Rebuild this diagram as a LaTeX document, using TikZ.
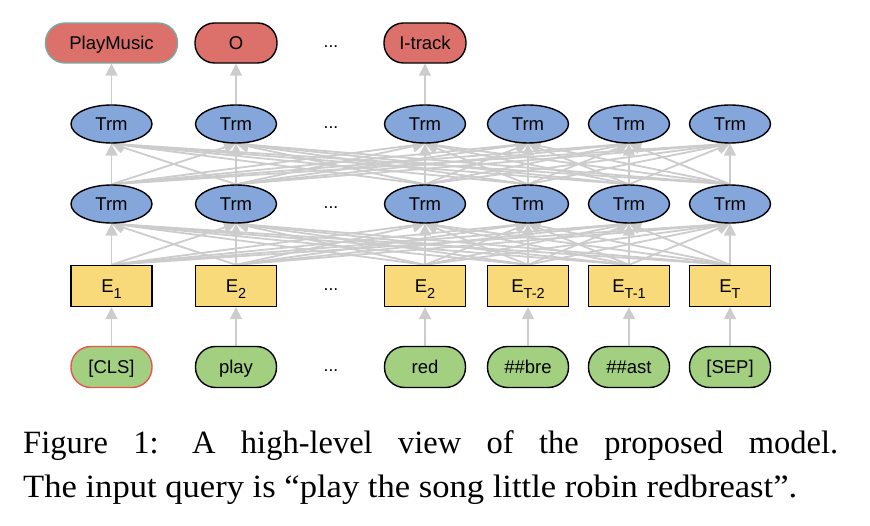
\documentclass[tikz,border=0pt]{standalone}
\usepackage{fontspec}
\setmainfont{Liberation Sans}
\newfontfamily\capfont{Liberation Serif}
\usetikzlibrary{arrows.meta,shapes.geometric,backgrounds}
\definecolor{redfill}{RGB}{220,112,106}
\definecolor{bluefill}{RGB}{133,166,219}
\definecolor{yellowfill}{RGB}{249,218,122}
\definecolor{greenfill}{RGB}{163,208,128}
\definecolor{arrowgray}{RGB}{204,204,204}
\definecolor{tealborder}{RGB}{120,170,160}
\definecolor{clsborder}{RGB}{232,85,79}
\newcommand{\sub}[1]{\raisebox{-5.5pt}{\fontsize{14.5}{14.5}\selectfont #1}}
\begin{document}
\begin{tikzpicture}[x=1pt,y=-1pt,
  base/.style={draw=black, line width=1.4pt, inner sep=0pt, text height=13.3pt, text depth=0pt, font=\fontsize{18.5}{20}\selectfont},
  outbox/.style={base, rectangle, fill=redfill, rounded corners=19.5pt, minimum width=82pt, minimum height=40pt},
  trm/.style={base, ellipse, fill=bluefill, minimum width=81pt, minimum height=38pt},
  emb/.style={base, rectangle, fill=yellowfill, minimum width=81pt, minimum height=41pt},
  tok/.style={base, rectangle, fill=greenfill, rounded corners=20pt, minimum width=81pt, minimum height=41pt},
  conn/.style={draw=arrowgray, line width=1.8pt, -{Triangle[length=12pt,width=12pt]}},
  dotstyle/.style={inner sep=0pt, font=\fontsize{17.5}{20}\selectfont},
  captext/.style={anchor=base west, inner sep=0pt, font=\capfont\fontsize{32.5}{38}\selectfont}
]
\useasboundingbox (0,0) rectangle (870,526);

% output row
\node[outbox, draw=tealborder, minimum width=132pt] (o1) at (111.5,43) {PlayMusic};
\node[outbox] (o2) at (236,43) {O};
\node[dotstyle] (od) at (331,47) {...};
\node[outbox] (o3) at (425,43) {I-track};

% top Trm row
\node[trm] (a1) at (111.5,124) {Trm};
\node[trm] (a2) at (236,124) {Trm};
\node[dotstyle] (ad) at (331,128) {...};
\node[trm] (a3) at (425,124) {Trm};
\node[trm] (a4) at (528,124) {Trm};
\node[trm] (a5) at (629,124) {Trm};
\node[trm] (a6) at (730,124) {Trm};

% second Trm row
\node[trm] (b1) at (111.5,204) {Trm};
\node[trm] (b2) at (236,204) {Trm};
\node[dotstyle] (bd) at (331,208) {...};
\node[trm] (b3) at (425,204) {Trm};
\node[trm] (b4) at (528,204) {Trm};
\node[trm] (b5) at (629,204) {Trm};
\node[trm] (b6) at (730,204) {Trm};

% embeddings
\node[emb] (e1) at (111.5,286) {E\sub{1}};
\node[emb] (e2) at (236,286) {E\sub{2}};
\node[dotstyle] (ed) at (331,290) {...};
\node[emb] (e3) at (425,286) {E\sub{2}};
\node[emb] (e4) at (528,286) {E\sub{T-2}};
\node[emb] (e5) at (629,286) {E\sub{T-1}};
\node[emb] (e6) at (730,286) {E\sub{T}};

% tokens
\node[tok, draw=clsborder] (g1) at (111.5,367) {[CLS]};
\node[tok] (g2) at (236,367) {play};
\node[dotstyle] (gd) at (331,371) {...};
\node[tok] (g3) at (425,367) {red};
\node[tok] (g4) at (528,367) {\#\#bre};
\node[tok] (g5) at (629,367) {\#\#ast};
\node[tok] (g6) at (730,367) {[SEP]};

\begin{scope}[on background layer]
  \foreach \s in {1,...,6} {
    \foreach \t in {1,...,6} {
      \draw[conn] (e\s.north) -- (b\t.south);
      \draw[conn] (b\s.north) -- (a\t.south);
    }
    \draw[conn] (g\s.north) -- (e\s.south);
  }
  \foreach \i in {1,2,3} {
    \draw[conn] (a\i.north) -- (o\i.south);
  }
\end{scope}

% caption
\node[captext] (cap1) at (23,453)
  {\frenchspacing\makebox[815pt][s]{Figure 1:\hspace{8pt} A high-level view of the proposed model.}};
\node[captext] (cap2) at (23,497)
  {\resizebox{774pt}{\height}{The input query is “play the song little robin redbreast”.}};
\end{tikzpicture}
\end{document}
